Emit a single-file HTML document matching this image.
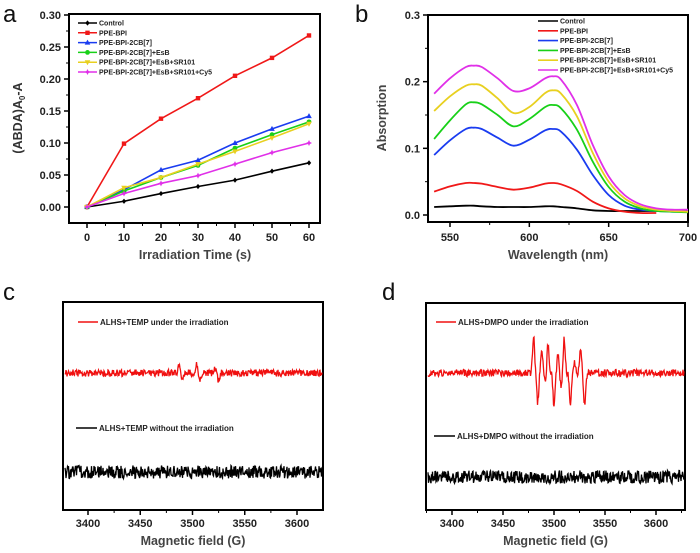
<!DOCTYPE html>
<html><head><meta charset="utf-8"><style>
body{margin:0;background:#fff}
svg{display:block;font-family:"Liberation Sans",Arial,sans-serif}
</style></head><body>
<svg id="fig" width="700" height="553" viewBox="0 0 700 553"></svg>
<script>
// Panel a data
const aTimes=[0,10,20,30,40,50,60];
const aNames=["Control","PPE-BPI","PPE-BPI-2CB[7]","PPE-BPI-2CB[7]+EsB","PPE-BPI-2CB[7]+EsB+SR101","PPE-BPI-2CB[7]+EsB+SR101+Cy5"];
const aColors=["#000","#f01818","#1a3cf0","#18d018","#e8d020","#e030e8"];
const aControl=[0,0.009,0.021,0.032,0.042,0.056,0.069];
const aBPI=[0,0.099,0.138,0.170,0.205,0.233,0.268];
const aCB7=[0,0.027,0.058,0.073,0.100,0.122,0.142];
const aEsB=[0,0.025,0.046,0.065,0.092,0.113,0.133];
const aSR101=[0,0.030,0.046,0.067,0.087,0.108,0.130];
const aCy5=[0,0.021,0.037,0.049,0.067,0.085,0.100];
const aYTicks=["0.00","0.05","0.10","0.15","0.20","0.25","0.30"];
const aXTicks=[0,10,20,30,40,50,60];
// Panel b data
const bWl=[540,550,560,565,570,580,590,600,610,615,620,630,640,650,660,670,680,690,700];
const bControl=[.012,.013,.014,.014,.013,.012,.012,.012,.013,.013,.012,.010,.007,.006,.006,.006,.006,.006,.006];
const bBPI=[.035,.043,.048,.048,.047,.042,.038,.041,.047,.048,.046,.036,.020,.010,.005,.003,.003];
const bCB7=[.090,.112,.129,.131,.129,.116,.104,.113,.127,.129,.125,.098,.060,.030,.014,.008,.006,.005,.005];
const bEsB=[.114,.142,.166,.169,.166,.150,.133,.144,.162,.165,.160,.128,.080,.042,.020,.010,.006,.005,.004];
const bSR101=[.156,.178,.194,.196,.194,.175,.153,.162,.183,.187,.182,.148,.093,.050,.025,.013,.008,.006,.005];
const bCy5=[.182,.205,.222,.224,.222,.205,.186,.190,.205,.208,.203,.165,.105,.058,.030,.016,.010,.008,.008];
const bYTicks=["0.0","0.1","0.2","0.3"];
const bXTicks=[550,600,650,700];
// Panels c/d: EPR features [field G, amplitude (px)]
const cPeaks=[[3487,7],[3490,-7],[3504,9],[3507,-8],[3522,5],[3525,-8]];
const dPeaks=[[3480,38],[3484,-29],[3488,20],[3492,-10],[3494,31],[3500,-32],[3504,20],[3507,-15],[3510,35],[3516,-30],[3520,10],[3526,25],[3530,-33]];
const eprXTicks=[3400,3450,3500,3550,3600];

const NS="http://www.w3.org/2000/svg";
const svg=document.getElementById('fig');
function el(tag,attrs,parent,text){const e=document.createElementNS(NS,tag);for(const k in attrs)e.setAttribute(k,attrs[k]);if(text!==undefined)e.textContent=text;(parent||svg).appendChild(e);return e;}
function txt(x,y,s,size,opts,name){const t=el('text',Object.assign({x:x,y:y,'font-size':size,'font-weight':'bold',fill:'#222'},opts||{}),svg,s);

return t;}
function smooth(pts){let d="M"+pts[0][0]+","+pts[0][1];for(let i=0;i<pts.length-1;i++){const p0=pts[Math.max(0,i-1)],p1=pts[i],p2=pts[i+1],p3=pts[Math.min(pts.length-1,i+2)];
d+=" C"+(p1[0]+(p2[0]-p0[0])/6)+","+(p1[1]+(p2[1]-p0[1])/6)+" "+(p2[0]-(p3[0]-p1[0])/6)+","+(p2[1]-(p3[1]-p1[1])/6)+" "+p2[0]+","+p2[1];}return d;}
function frame(x0,y0,x1,y1,name){const r=el('rect',{x:x0,y:y0,width:x1-x0,height:y1-y0,fill:'none',stroke:'#000','stroke-width':2});

}
function letter(x,y,s){txt(x,y,s,24,{'font-weight':'normal',fill:'#111'},'panel-label-'+s);}

// ===== Panel a =====
(function(){
const X=v=>87+(v-0)*(309-87)/60, Y=v=>207-v*(207-15)/0.30;
letter(3,22,'a');
frame(69,14,320,223,'panel-a-frame');
aXTicks.forEach(v=>{el('line',{x1:X(v),y1:223,x2:X(v),y2:228,stroke:'#000','stroke-width':1.5});txt(X(v),241,String(v),11,{'text-anchor':'middle'},'a-x-tick-label');});
aXTicks.slice(0,-1).forEach(v=>el('line',{x1:X(v+5),y1:223,x2:X(v+5),y2:226,stroke:'#000','stroke-width':1}));
aYTicks.forEach(s=>{const v=+s;el('line',{x1:64,y1:Y(v),x2:69,y2:Y(v),stroke:'#000','stroke-width':1.5});txt(61,Y(v)+4,s,11,{'text-anchor':'end'},'a-y-tick-label');});
aYTicks.forEach(s=>{const v=+s+0.025;if(v<0.3)el('line',{x1:66,y1:Y(v),x2:69,y2:Y(v),stroke:'#000','stroke-width':1});});
txt(195,259,'Irradiation Time (s)',12.5,{'text-anchor':'middle',fill:'#444'},'a-x-axis-title');
const yt=el('text',{x:0,y:0,'font-size':12.5,'font-weight':'bold',fill:'#333','text-anchor':'middle',transform:'translate(22,118) rotate(-90)'});
yt.innerHTML='(ABDA)A<tspan font-size="8" dy="3">0</tspan><tspan dy="-3">-A</tspan>';


const series=[aControl,aBPI,aCB7,aEsB,aSR101,aCy5];
const shapes=['diamond','square','tri','circle','dtri','star'];
function marker(x,y,s,c,g){let m;
if(s==='square')m=el('rect',{x:x-2.2,y:y-2.2,width:4.4,height:4.4,fill:c},g);
else if(s==='circle')m=el('circle',{cx:x,cy:y,r:2.4,fill:c},g);
else if(s==='tri')m=el('polygon',{points:`${x},${y-3} ${x-2.8},${y+2} ${x+2.8},${y+2}`,fill:c},g);
else if(s==='dtri')m=el('polygon',{points:`${x},${y+3} ${x-2.8},${y-2} ${x+2.8},${y-2}`,fill:c},g);
else if(s==='star')m=el('polygon',{points:`${x},${y-3} ${x+1},${y-1} ${x+3},${y} ${x+1},${y+1} ${x},${y+3} ${x-1},${y+1} ${x-3},${y} ${x-1},${y-1}`,fill:c},g);
else m=el('polygon',{points:`${x},${y-2.6} ${x+2.2},${y} ${x},${y+2.6} ${x-2.2},${y}`,fill:c},g);

}
series.forEach((arr,i)=>{const g=el('g',{});


const pts=arr.map((v,j)=>X(aTimes[j])+","+Y(v)).join(" ");
el('polyline',{points:pts,fill:'none',stroke:aColors[i],'stroke-width':1.6},g);
arr.forEach((v,j)=>marker(X(aTimes[j]),Y(v),shapes[i],aColors[i],g));
const ly=23+i*9.8;
el('line',{x1:78,y1:ly,x2:97,y2:ly,stroke:aColors[i],'stroke-width':1.5});
marker(87.5,ly,shapes[i],aColors[i],svg);
txt(99,ly+2.5,aNames[i],7,{fill:'#222'},'a-legend-entry');
});
})();

// ===== Panel b =====
(function(){
const X=v=>450+(v-550)*(688-450)/150, Y=v=>215-v*(215-15)/0.3;
letter(355,22,'b');
frame(428,15,688,222,'panel-b-frame');
bXTicks.forEach(v=>{el('line',{x1:X(v),y1:222,x2:X(v),y2:227,stroke:'#000','stroke-width':1.5});txt(X(v),241,String(v),11,{'text-anchor':'middle'},'b-x-tick-label');});
[575,625,675].forEach(v=>el('line',{x1:X(v),y1:222,x2:X(v),y2:225,stroke:'#000','stroke-width':1}));
bYTicks.forEach(s=>{const v=+s;el('line',{x1:423,y1:Y(v),x2:428,y2:Y(v),stroke:'#000','stroke-width':1.5});txt(420,Y(v)+4,s,11,{'text-anchor':'end'},'b-y-tick-label');});
[0.05,0.15,0.25].forEach(v=>el('line',{x1:425,y1:Y(v),x2:428,y2:Y(v),stroke:'#000','stroke-width':1}));
txt(558,259,'Wavelength (nm)',12.5,{'text-anchor':'middle',fill:'#444'},'b-x-axis-title');
txt(0,0,'Absorption',12.5,{'text-anchor':'middle',fill:'#444',transform:'translate(386,118) rotate(-90)'},'b-y-axis-title');
const series=[bControl,bBPI,bCB7,bEsB,bSR101,bCy5];
series.forEach((arr,i)=>{const pts=arr.map((v,j)=>[X(bWl[j]),Y(v)]);
const p=el('path',{d:smooth(pts),fill:'none',stroke:aColors[i],'stroke-width':1.8});


const ly=21+i*9.8;
el('line',{x1:538,y1:ly,x2:558,y2:ly,stroke:aColors[i],'stroke-width':1.6});
txt(560,ly+2.5,aNames[i],7,{fill:'#222'},'b-legend-entry');});
})();

// ===== EPR panels =====
function noise(k,seed){const s=Math.sin(k*12.9898+seed*78.233)*43758.5453;return s-Math.floor(s)-0.5;}
function epr(cfg){
const X=v=>cfg.x3400+(v-3400)*cfg.ppg;
letter(cfg.lx,300,cfg.letter);
frame(cfg.x0,cfg.y0,cfg.x1,cfg.y1,'panel-'+cfg.letter+'-frame');
eprXTicks.forEach(v=>{el('line',{x1:X(v),y1:cfg.y1,x2:X(v),y2:cfg.y1+5,stroke:'#000','stroke-width':1.5});txt(X(v),cfg.y1+17,String(v),11,{'text-anchor':'middle'},cfg.letter+'-x-tick-label');});
[3375,3425,3475,3525,3575,3625].forEach(v=>{if(X(v)>=cfg.x0&&X(v)<=cfg.x1)el('line',{x1:X(v),y1:cfg.y1,x2:X(v),y2:cfg.y1+3,stroke:'#000','stroke-width':1});});
txt((cfg.x0+cfg.x1)/2,545,'Magnetic field (G)',12.5,{'text-anchor':'middle',fill:'#444'},cfg.letter+'-x-axis-title');
let d="",db="";
for(let px=cfg.x0+2;px<=cfg.x1-1;px+=0.5){const f=3400+(px-cfg.x3400)/cfg.ppg;
let y=cfg.redY+noise(px,1)*7;
cfg.peaks.forEach(p=>{y-=p[1]*Math.exp(-Math.pow((f-p[0])/1.4,2));});
d+=(d?"L":"M")+px.toFixed(1)+","+y.toFixed(1);
const yb=cfg.blackY+noise(px,7)*13;
db+=(db?"L":"M")+px.toFixed(1)+","+yb.toFixed(1);}
const r=el('path',{d:d,fill:'none',stroke:'#f01010','stroke-width':1.3});


const b=el('path',{d:db,fill:'none',stroke:'#000','stroke-width':1.3});


el('line',{x1:cfg.legX,y1:322,x2:cfg.legX+20,y2:322,stroke:'#f01010','stroke-width':1.5});
txt(cfg.legX+22,325,cfg.redLabel,8,{fill:'#222'},cfg.letter+'-legend-red');
el('line',{x1:cfg.legX-2,y1:cfg.blackLegY,x2:cfg.legX+19,y2:cfg.blackLegY,stroke:'#000','stroke-width':1.5});
txt(cfg.legX+21,cfg.blackLegY+3,cfg.blackLabel,8,{fill:'#222'},cfg.letter+'-legend-black');
}
epr({letter:'c',lx:3,x0:63,x1:323,y0:302,y1:510,x3400:88,ppg:(297-88)/200,peaks:cPeaks,redY:373,blackY:472,legX:78,blackLegY:428,redLabel:'ALHS+TEMP under the irradiation',blackLabel:'ALHS+TEMP without the irradiation'});
epr({letter:'d',lx:382,x0:426,x1:685,y0:303,y1:510,x3400:452,ppg:(656-452)/200,peaks:dPeaks,redY:373,blackY:477,legX:436,blackLegY:436,redLabel:'ALHS+DMPO under the irradiation',blackLabel:'ALHS+DMPO without the irradiation'});
</script>
</body></html>
